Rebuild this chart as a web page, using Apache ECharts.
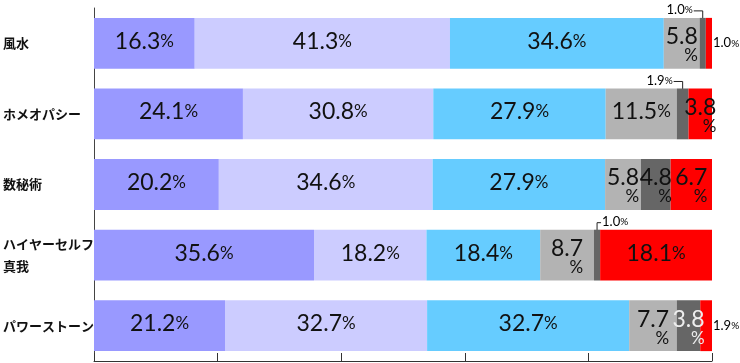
<!DOCTYPE html>
<html><head><meta charset="utf-8">
<script src="https://cdn.jsdelivr.net/npm/echarts@6/dist/echarts.min.js"></script>
<style>html,body{margin:0;padding:0;background:#fff}#c{width:740px;height:363px}</style>
</head><body><div id="c"></div>
<script>
const categories = ['風水', 'ホメオパシー', '数秘術', 'ハイヤーセルフ\n真我', 'パワーストーン'];
const s1 = [16.3, 24.1, 20.2, 35.6, 21.2];
const s2 = [41.3, 30.8, 34.6, 18.2, 32.7];
const s3 = [34.6, 27.9, 27.9, 18.4, 32.7];
const s4 = [5.8, 11.5, 5.8, 8.7, 7.7];
const s5 = [1.0, 1.9, 4.8, 1.0, 3.8];
const s6 = [1.0, 3.8, 6.7, 18.1, 1.9];
const xTicks = [0, 20, 40, 60, 80, 100];

const seriesData = [s1, s2, s3, s4, s5, s6];
const colors = ['#9999ff', '#ccccff', '#66ccff', '#b3b3b3', '#666666', '#ff0000'];
const NUMFONT = "Lato, 'Noto Sans', sans-serif";

const rich = {
  n: {fontSize: 23, fontFamily: NUMFONT, color: '#111', align: 'right', lineHeight: 19},
  p: {fontSize: 17, fontFamily: NUMFONT, color: '#111', align: 'right', lineHeight: 19},
  nw: {fontSize: 23, fontFamily: NUMFONT, color: '#eee', align: 'right', lineHeight: 19},
  pw: {fontSize: 17, fontFamily: NUMFONT, color: '#eee', align: 'right', lineHeight: 19}
};

function fmt(v) { return v.toFixed(1); }

const series = seriesData.map((arr, si) => ({
  type: 'bar',
  stack: 'total',
  barCategoryGap: '28%',
  itemStyle: {color: colors[si]},
  emphasis: {disabled: true},
  data: arr.map((v, ri) => {
    const light = (si === 4 && ri === 4);
    const n = light ? 'nw' : 'n', p = light ? 'pw' : 'p';
    let label;
    if (v >= 10) {
      label = {show: true, position: 'inside', offset: [0, -2], formatter: '{' + n + '|' + fmt(v) + '}{' + p + '|%}', rich: rich};
    } else if (v >= 3) {
      label = {show: true, position: 'inside', offset: [0, 3], formatter: '{' + n + '|' + fmt(v) + '}\n{' + p + '|%}', rich: rich};
    } else {
      label = {show: false};
    }
    return {value: v, label: label};
  })
}));

const chart = echarts.init(document.getElementById('c'), null, {renderer: 'canvas'});
chart.setOption({
  animation: false,
  grid: {left: 93, right: 28, top: 8, bottom: 2},
  xAxis: {
    type: 'value', min: xTicks[0], max: xTicks[xTicks.length - 1], interval: 20,
    axisLabel: {show: false}, splitLine: {show: false},
    axisLine: {show: true, lineStyle: {color: '#333', width: 1}},
    axisTick: {show: true, inside: true, length: 8, lineStyle: {color: '#333', width: 1}}
  },
  yAxis: {
    type: 'category', inverse: true, data: categories,
    axisTick: {show: false},
    axisLine: {show: true, lineStyle: {color: '#444', width: 1}},
    axisLabel: {align: 'left', margin: 91, fontSize: 13, fontWeight: 'bold', color: '#111',
      fontFamily: "'Noto Sans CJK JP', sans-serif", lineHeight: 22}
  },
  series: series
});

// external small labels with leader lines
const graphics = [];
const smallRich = {
  n: {fontSize: 13, fontFamily: NUMFONT, color: '#111'},
  p: {fontSize: 10, fontFamily: NUMFONT, color: '#111'}
};
const band = chart.convertToPixel({yAxisIndex: 0}, 1) - chart.convertToPixel({yAxisIndex: 0}, 0);
const barH = band * 0.72;
seriesData.forEach((arr, si) => {
  arr.forEach((v, ri) => {
    if (v >= 3) return;
    let start = 0;
    for (let k = 0; k < si; k++) start += seriesData[k][ri];
    const end = start + v;
    const pStart = chart.convertToPixel({xAxisIndex: 0, yAxisIndex: 0}, [start, ri]);
    const pEnd = chart.convertToPixel({xAxisIndex: 0, yAxisIndex: 0}, [end, ri]);
    const cy = pStart[1];
    const txt = '{n|' + fmt(v) + '}{p|%}';
    if (si === seriesData.length - 1) {
      graphics.push({type: 'text', x: pEnd[0] + 1, y: cy, style: {text: txt, rich: smallRich, verticalAlign: 'middle', align: 'left'}});
    } else {
      const cx = (pStart[0] + pEnd[0]) / 2;
      const top = cy - barH / 2;
      const ly = top - 7;
      const leftSide = cx > 650;
      const hx = leftSide ? cx - 9 : cx + 4;
      graphics.push({type: 'polyline', shape: {points: [[cx, top + 3], [cx, ly], [hx, ly]]}, style: {stroke: '#222', lineWidth: 1, fill: null}});
      graphics.push({type: 'text', x: leftSide ? hx - 1 : hx + 1, y: ly - 1,
        style: {text: txt, rich: smallRich, verticalAlign: 'middle', align: leftSide ? 'right' : 'left'}});
    }
  });
});
chart.setOption({graphic: graphics});
</script>
</body></html>
